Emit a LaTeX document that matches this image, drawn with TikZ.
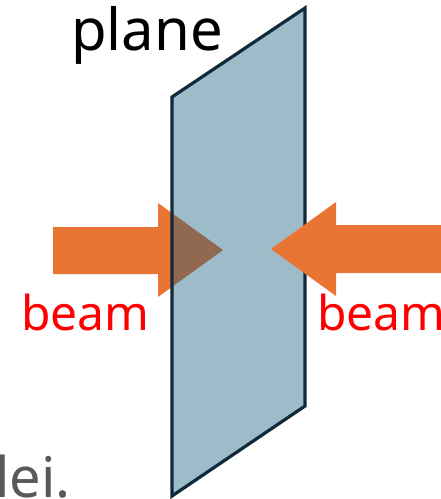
\documentclass[tikz,border=0pt]{standalone}
\usepackage{fontspec}
\setmainfont{Noto Sans}
\definecolor{beamfill}{HTML}{EA7433}
\definecolor{planefill}{HTML}{105B7B}
\definecolor{planeedge}{HTML}{0F2A3A}
\definecolor{beamtext}{HTML}{FF0000}
\definecolor{graytext}{HTML}{595959}
\begin{document}
\begin{tikzpicture}[x=1pt,y=-1pt,
 face/.style={draw=planeedge,line width=3.2pt,line join=miter,fill=planefill,fill opacity=0.41},
 beamarrow/.style={fill=beamfill,draw=none},
 lbl/.style={anchor=base west,inner sep=0pt,outer sep=0pt}]
\useasboundingbox (0,0) rectangle (441,499);
% left beam, seen through the plane
\fill[beamarrow] (53,227) -- (158,227) -- (158,203) -- (223,250) -- (158,297) -- (158,274) -- (53,274) -- cycle;
% the plane
\draw[face] (172,97) -- (305,8) -- (305,406) -- (172,496) -- cycle;
% right beam, in front
\fill[beamarrow] (445,225) -- (336,225) -- (336,202) -- (271,249) -- (336,296) -- (336,273) -- (445,273) -- cycle;
% labels
\node[lbl,font=\fontsize{58}{62}\selectfont] (planelbl) at (71,50) {plane};
\node[lbl,font=\fontsize{48}{54}\selectfont,text=beamtext] (beamleft) at (21,330) {beam};
\node[lbl,font=\fontsize{48}{54}\selectfont,text=beamtext] (beamright) at (317,330) {beam};
\node[lbl,font=\fontsize{56}{60}\selectfont,text=graytext] (caption) at (-5,497) {lei.};
\end{tikzpicture}
\end{document}
